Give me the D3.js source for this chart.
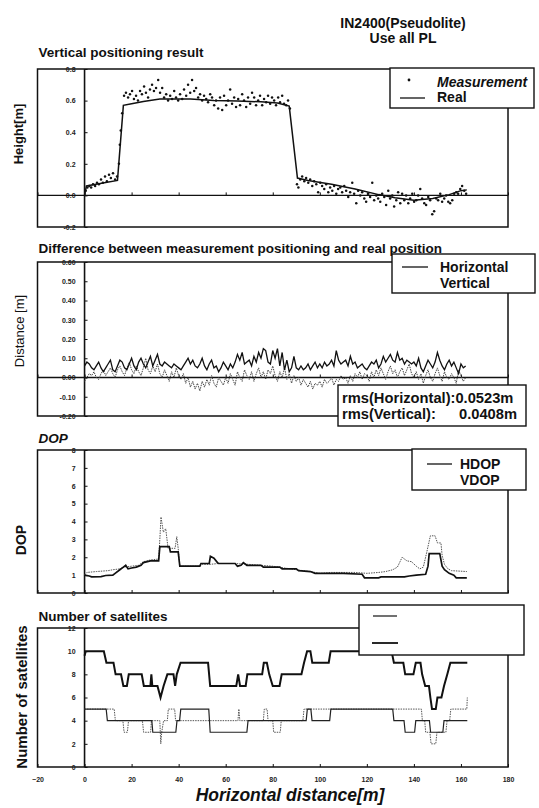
<!DOCTYPE html>
<html>
<head>
<meta charset="utf-8">
<script src="https://cdn.jsdelivr.net/npm/d3@7"></script>
<style>
    body { margin: 0; background: #fff; }
    svg { display: block; font-family: "Liberation Sans", Arial, sans-serif; }
</style>
</head>
<body>
<div id="chart"></div>
<script>
// ---- data ----
const xTicks = [-20, 0, 20, 40, 60, 80, 100, 120, 140, 160, 180]

const heightTicks = [-0.2, 0, 0.2, 0.4, 0.6, 0.8]
const realDist = [0, 0.8, 14, 16.5, 20, 25, 32, 45, 55, 65, 75, 82, 87, 90.5, 95, 105, 115, 125, 132, 140, 148, 155, 160, 162.5]
const realHeight = [0.0, 0.06, 0.095, 0.57, 0.58, 0.595, 0.61, 0.61, 0.60, 0.598, 0.592, 0.585, 0.565, 0.11, 0.095, 0.07, 0.04, 0.005, -0.015, -0.03, -0.02, 0.005, 0.03, 0.035]
const measurement = [
    [0.5, 0.03], [1.2, 0.05], [2.0, 0.06], [2.8, 0.05], [3.6, 0.07], [4.5, 0.06], [5.3, 0.08], [6.1, 0.07], [7.0, 0.10], [7.8, 0.08],
    [8.7, 0.12], [9.5, 0.09], [10.4, 0.13], [11.2, 0.11], [12.1, 0.14], [13.0, 0.10], [13.8, 0.12], [14.6, 0.20], [15.0, 0.32], [15.4, 0.41],
    [16.0, 0.52], [16.8, 0.63], [17.6, 0.65], [18.5, 0.62], [19.3, 0.64], [20.2, 0.66], [21.0, 0.61], [21.9, 0.63], [22.7, 0.60], [23.6, 0.66],
    [24.4, 0.64], [25.3, 0.69], [26.1, 0.65], [27.0, 0.62], [27.8, 0.67], [28.7, 0.70], [29.5, 0.66], [30.4, 0.68], [31.3, 0.73], [32.1, 0.65],
    [33.0, 0.68], [33.8, 0.62], [34.7, 0.64], [35.5, 0.60], [36.4, 0.63], [37.2, 0.61], [38.1, 0.66], [38.9, 0.62], [39.8, 0.60], [40.6, 0.64],
    [41.5, 0.61], [42.3, 0.67], [43.2, 0.63], [44.0, 0.70], [44.9, 0.65], [45.7, 0.73], [46.6, 0.66], [47.4, 0.68], [48.3, 0.62], [49.1, 0.64],
    [50.0, 0.60], [50.8, 0.63], [51.7, 0.61], [52.5, 0.59], [53.4, 0.64], [54.2, 0.62], [55.1, 0.57], [55.9, 0.60], [56.8, 0.55], [57.6, 0.62],
    [58.5, 0.54], [59.3, 0.63], [60.2, 0.57], [61.0, 0.60], [61.9, 0.67], [62.7, 0.58], [63.6, 0.62], [64.4, 0.56], [65.3, 0.61], [66.1, 0.57],
    [67.0, 0.64], [67.8, 0.60], [68.7, 0.56], [69.5, 0.62], [70.4, 0.58], [71.2, 0.65], [72.1, 0.62], [72.9, 0.57], [73.8, 0.60], [74.6, 0.63],
    [75.5, 0.57], [76.3, 0.61], [77.2, 0.59], [78.0, 0.63], [78.9, 0.58], [79.7, 0.62], [80.6, 0.60], [81.4, 0.57], [82.3, 0.62], [83.1, 0.59],
    [84.0, 0.63], [84.8, 0.58], [85.7, 0.57], [86.5, 0.60], [87.3, 0.55], [90.3, 0.07], [90.9, 0.05], [91.7, 0.10], [92.5, 0.12], [93.4, 0.09],
    [94.2, 0.11], [95.1, 0.08], [95.9, 0.10], [96.8, 0.06], [97.6, 0.09], [98.5, 0.07], [99.3, 0.02], [100.2, 0.08], [101.0, 0.06], [101.9, 0.04],
    [102.7, 0.07], [103.6, 0.02], [104.4, 0.05], [105.3, 0.03], [106.1, 0.06], [107.0, 0.01], [107.8, 0.04], [108.7, 0.05], [109.5, 0.02], [110.4, 0.06],
    [111.2, 0.03], [112.1, -0.01], [112.9, 0.02], [113.8, 0.08], [114.6, 0.01], [115.5, -0.05], [116.3, 0.03], [117.2, 0.00], [118.0, 0.02], [118.9, -0.02],
    [119.7, -0.04], [120.6, 0.01], [121.4, -0.01], [122.3, 0.08], [123.1, -0.03], [124.0, 0.00], [124.8, -0.02], [125.7, -0.04], [126.5, 0.01], [127.4, -0.01],
    [128.2, -0.06], [129.1, 0.03], [129.9, -0.02], [130.8, 0.00], [131.6, -0.07], [132.5, -0.03], [133.3, 0.02], [134.2, -0.05], [135.0, 0.01], [135.9, -0.03],
    [136.7, 0.00], [137.6, -0.05], [138.4, -0.02], [139.3, 0.01], [140.1, -0.04], [141.0, -0.03], [141.8, 0.00], [142.7, 0.04], [143.5, -0.02], [144.4, -0.05],
    [145.2, -0.06], [146.1, -0.01], [146.9, -0.03], [147.8, -0.12], [148.6, -0.10], [149.5, -0.02], [150.3, -0.03], [151.2, 0.01], [152.0, -0.04], [152.9, -0.02],
    [153.7, 0.00], [154.6, -0.04], [155.4, -0.05], [156.3, -0.03], [157.1, 0.01], [158.0, 0.02], [158.8, 0.01], [159.7, 0.04], [160.5, 0.06], [161.4, 0.03],
    [162.2, 0.01]
]

const diffTicks = [-0.2, -0.1, 0, 0.1, 0.2, 0.3, 0.4, 0.5, 0.6]
const diffDist = [
    0, 1, 2, 3, 4, 5, 6, 7, 8, 9, 10, 11, 12, 13, 14, 15, 16, 17, 18, 19, 20, 21, 22, 23, 24, 25, 26, 27, 28, 29,
    30, 31, 32, 33, 34, 35, 36, 37, 38, 39, 40, 41, 42, 43, 44, 45, 46, 47, 48, 49, 50, 51, 52, 53, 54, 55, 56, 57, 58, 59,
    60, 61, 62, 63, 64, 65, 66, 67, 68, 69, 70, 71, 72, 73, 74, 75, 76, 77, 78, 79, 80, 81, 82, 83, 84, 85, 86, 87, 88, 89,
    90, 91, 92, 93, 94, 95, 96, 97, 98, 99, 100, 101, 102, 103, 104, 105, 106, 107, 108, 109, 110, 111, 112, 113, 114, 115, 116, 117, 118, 119,
    120, 121, 122, 123, 124, 125, 126, 127, 128, 129, 130, 131, 132, 133, 134, 135, 136, 137, 138, 139, 140, 141, 142, 143, 144, 145, 146, 147, 148, 149,
    150, 151, 152, 153, 154, 155, 156, 157, 158, 159, 160, 161, 162
]
const diffHorizontal = [
    0.06, 0.08, 0.07, 0.05, 0.04, 0.06, 0.08, 0.05, 0.03, 0.05, 0.07, 0.09, 0.04, 0.03, 0.06, 0.09, 0.08, 0.05, 0.04, 0.07,
    0.10, 0.06, 0.04, 0.08, 0.10, 0.07, 0.05, 0.08, 0.11, 0.06, 0.09, 0.12, 0.07, 0.06, 0.08, 0.07, 0.06, 0.05, 0.07, 0.06,
    0.05, 0.04, 0.06, 0.08, 0.10, 0.07, 0.09, 0.06, 0.05, 0.07, 0.10, 0.06, 0.04, 0.07, 0.09, 0.05, 0.06, 0.03, 0.05, 0.08,
    0.06, 0.04, 0.07, 0.05, 0.08, 0.12, 0.09, 0.13, 0.07, 0.08, 0.09, 0.06, 0.11, 0.08, 0.13, 0.10, 0.15, 0.14, 0.08, 0.07,
    0.14, 0.10, 0.15, 0.06, 0.13, 0.04, 0.09, 0.03, 0.05, 0.11, 0.05, 0.04, 0.06, 0.04, 0.05, 0.07, 0.04, 0.06, 0.08, 0.05,
    0.07, 0.05, 0.08, 0.06, 0.07, 0.09, 0.06, 0.14, 0.09, 0.07, 0.08, 0.09, 0.06, 0.11, 0.07, 0.08, 0.05, 0.06, 0.07, 0.05,
    0.04, 0.06, 0.08, 0.07, 0.09, 0.05, 0.07, 0.11, 0.08, 0.10, 0.12, 0.09, 0.08, 0.13, 0.09, 0.10, 0.07, 0.09, 0.08, 0.07,
    0.08, 0.06, 0.10, 0.05, 0.03, 0.06, 0.09, 0.07, 0.05, 0.08, 0.13, 0.09, 0.06, 0.04, 0.07, 0.09, 0.06, 0.08, 0.05, 0.02,
    0.07, 0.05, 0.06
]
const diffVertical = [
    -0.02, 0.00, 0.02, 0.01, 0.03, 0.00, -0.01, 0.02, 0.04, 0.01, 0.03, 0.05, 0.02, 0.00, 0.04, 0.06, 0.03, 0.01, 0.05, 0.08,
    0.04, 0.02, 0.06, 0.03, 0.01, 0.05, 0.10, 0.04, 0.02, 0.06, 0.03, 0.07, 0.02, 0.00, 0.04, 0.01, -0.02, 0.03, 0.00, 0.05,
    0.01, -0.01, 0.02, -0.03, 0.00, -0.05, -0.02, -0.06, -0.03, -0.07, -0.02, -0.05, -0.01, -0.04, 0.01, -0.03, -0.05, 0.00, -0.02, -0.04,
    0.00, -0.03, 0.02, -0.01, -0.04, 0.03, 0.00, -0.02, 0.04, 0.01, -0.01, 0.03, -0.02, 0.02, 0.05, 0.00, 0.03, -0.01, 0.04, 0.02,
    0.06, 0.01, -0.02, 0.03, 0.00, 0.05, -0.01, 0.02, -0.03, 0.01, -0.02, 0.00, -0.04, -0.01, -0.03, -0.05, -0.02, -0.06, -0.03, -0.04,
    -0.02, -0.05, -0.01, -0.03, -0.02, 0.00, -0.04, -0.01, -0.02, 0.01, -0.01, 0.00, -0.03, 0.01, -0.02, 0.02, 0.00, 0.03, -0.01, 0.02,
    0.01, -0.02, 0.03, 0.00, 0.04, 0.01, 0.05, 0.02, -0.01, 0.03, 0.06, 0.02, 0.04, 0.00, 0.03, 0.05, 0.01, 0.04, 0.07, 0.02,
    0.00, 0.03, -0.01, 0.02, -0.03, 0.01, 0.04, 0.00, -0.02, 0.02, 0.05, 0.01, -0.02, 0.03, 0.00, -0.01, 0.02, 0.00, -0.03, 0.04,
    0.01, -0.02, 0.00
]

const dopTicks = [0, 1, 2, 3, 4, 5, 6, 7, 8]
const hdop = [
    [0, 1.0], [2, 0.95], [3, 0.9], [7, 0.92], [9, 0.98], [12, 1.0], [13, 1.1], [15, 1.3], [16.5, 1.45], [17.5, 1.55],
    [18.5, 1.35], [20, 1.4], [22, 1.45], [24, 1.55], [25, 1.7], [28, 1.8], [31.5, 1.8], [32, 2.6], [36, 2.6], [36.5, 2.3],
    [39.8, 2.3], [40.5, 1.5], [49, 1.5], [49.5, 1.65], [53, 1.65], [53.5, 2.05], [55, 1.95], [56.5, 1.7], [57, 1.65], [64, 1.65],
    [65, 1.5], [66.5, 1.55], [67.5, 1.7], [69, 1.55], [75, 1.55], [76, 1.45], [83, 1.45], [84, 1.35], [90, 1.35], [91, 1.25],
    [96, 1.2], [98, 1.1], [110, 1.1], [118, 1.05], [119, 0.85], [125, 0.85], [126, 0.9], [136, 0.9], [138, 0.95], [141, 1.0],
    [145, 1.05], [146, 1.5], [146.5, 2.2], [151, 2.2], [152, 1.5], [153, 1.3], [155, 1.1], [157, 1.0], [158, 0.85], [162.5, 0.85]
]
const vdop = [
    [0, 1.0], [1, 1.15], [5, 1.2], [10, 1.25], [12, 1.3], [15, 1.35], [17, 1.45], [20, 1.5], [23, 1.55], [25, 1.75],
    [28, 1.85], [31.5, 1.9], [32, 3.0], [32.5, 4.25], [33.5, 3.4], [34.5, 3.6], [35.5, 2.5], [38.5, 2.5], [39.2, 3.15], [39.8, 2.5],
    [40.5, 1.5], [49, 1.5], [50, 1.6], [53, 1.6], [57, 1.65], [64, 1.65], [70, 1.6], [75, 1.55], [80, 1.5], [85, 1.4],
    [90, 1.3], [96, 1.2], [100, 1.1], [105, 1.15], [115, 1.15], [120, 1.1], [125, 1.15], [128, 1.2], [131, 1.3], [133, 1.45],
    [135, 2.0], [137, 1.8], [139, 1.75], [141, 1.5], [142.5, 1.35], [144, 1.45], [145.5, 2.3], [147, 3.2], [149, 3.2], [150, 2.8],
    [151.5, 2.8], [152, 2.1], [153, 1.6], [154.5, 1.35], [156, 1.25], [162.5, 1.2]
]

const satTicks = [0, 2, 4, 6, 8, 10, 12]
const satTotal = [
    [0, 9.6], [0.5, 10], [8.2, 10], [9.3, 9], [12.3, 9], [13.2, 8], [15.5, 8], [16.5, 7], [18, 7], [18.8, 8],
    [24.3, 8], [25.2, 7], [28, 7], [28.4, 8], [28.8, 7], [31, 7], [32.3, 6], [33.6, 7], [35.2, 8], [37.8, 8],
    [38.5, 7], [39.2, 8], [40.8, 9], [52.5, 9], [53.4, 7], [64.5, 7], [65.3, 8], [66.1, 7], [68.5, 7], [69.2, 8],
    [75.5, 8], [76.2, 9], [77.5, 9], [78.5, 8], [80, 7], [82.9, 7], [83.8, 8], [92.2, 8], [93.3, 9], [94.6, 10],
    [96, 10], [96.8, 9], [103.8, 9], [104.6, 10], [130.5, 10], [131.5, 9], [135.5, 9], [136.3, 8], [139.8, 8], [140.8, 9],
    [142.8, 9], [143.5, 8], [144.8, 7], [146.4, 7], [147, 6], [147.7, 5], [149.3, 5], [150, 6], [151.7, 6], [152.8, 7],
    [154.2, 8], [155.5, 9], [162.7, 9]
]
const satGroupA = [
    [0, 5], [9.2, 5], [9.7, 4], [28.6, 4], [29, 3], [38.8, 3], [39.3, 4], [40.4, 4], [40.9, 5], [52.8, 5],
    [53.4, 3], [69, 3], [69.5, 4], [94.2, 4], [94.7, 5], [96.2, 5], [96.7, 4], [104.2, 4], [104.7, 5], [131, 5],
    [131.5, 4], [135.8, 4], [136.3, 3], [140.3, 3], [140.8, 4], [146.6, 4], [147.1, 3], [152.3, 3], [152.8, 4], [162.7, 4]
]
const satGroupB = [
    [0, 5], [12.6, 5], [13.1, 4], [16.3, 4], [16.8, 3], [18.2, 3], [18.7, 4], [24.6, 4], [25.1, 3], [28.1, 3],
    [28.4, 4], [32, 4], [32.4, 2], [32.8, 3], [33.6, 4], [35.2, 4], [35.6, 5], [38.3, 5], [38.7, 4], [65.2, 4],
    [65.6, 5], [66, 4], [76, 4], [76.4, 5], [77.6, 5], [78, 4], [80, 4], [80.4, 3], [83.2, 3], [83.6, 4],
    [92.8, 4], [93.3, 5], [143.2, 5], [143.6, 4], [144.6, 4], [145, 3], [146.8, 3], [147.3, 2], [149.3, 2], [149.8, 3],
    [153.6, 3], [154.1, 4], [155.2, 4], [155.7, 5], [162.5, 5], [162.7, 6]
]

// ---- drawing ----
const width = 539
const height = 808
const font = '"Liberation Sans", Arial, sans-serif'

const svg = d3.select('#chart')
    .append('svg')
    .attr('width', width)
    .attr('height', height)

svg.append('rect').attr('width', width).attr('height', height).attr('fill', '#fff')

const xScale = d3.scaleLinear().domain([-20, 180]).range([37.5, 508])
const xLeft = xScale(-20)
const xRight = xScale(180)
const x0 = xScale(0)

function addText(sel, x, y, str, size, opts) {
    opts = opts || {}
    const t = sel.append('text')
        .attr('x', x)
        .attr('y', y)
        .attr('font-size', size)
        .attr('font-weight', opts.weight || 'bold')
        .attr('font-style', opts.italic ? 'italic' : 'normal')
        .attr('text-anchor', opts.anchor || 'start')
        .attr('fill', '#111')
        .text(str)
    if (opts.rotate) t.attr('transform', `rotate(-90,${x},${y})`)
    return t
}

// draws the frame, y axis and x ticks of one panel, returns its y scale
function makePanel(p) {
    const y = d3.scaleLinear().domain(p.domain).range([p.bottom, p.top])
    const g = svg.append('g')

    g.append('rect')
        .attr('x', xLeft).attr('y', p.top)
        .attr('width', xRight - xLeft).attr('height', p.bottom - p.top)
        .attr('fill', 'none').attr('stroke', '#111').attr('stroke-width', 1.5)

    addText(svg, xLeft + 1, p.titleY, p.title, 13.5, { italic: p.titleItalic })
    addText(svg, p.labelX, p.labelY, p.label, p.labelSize, { rotate: true, anchor: 'middle', weight: p.labelWeight })

    const yAxis = d3.axisLeft(y).tickValues(p.ticks).tickSize(-3).tickPadding(9).tickFormat(p.format)
    const ya = g.append('g').attr('transform', `translate(${x0},0)`).call(yAxis)
    ya.select('.domain').remove()
    ya.selectAll('line').attr('stroke', '#111')
    ya.selectAll('text').attr('font-size', 7).attr('font-weight', 'bold').attr('font-family', font).attr('fill', '#222')

    const base = y(0)
    const xAxis = d3.axisBottom(xScale).tickValues(xTicks).tickSize(-3).tickPadding(10)
    if (!p.xLabels) xAxis.tickFormat('')
    const xa = g.append('g').attr('transform', `translate(0,${base})`).call(xAxis)
    xa.select('.domain').remove()
    xa.selectAll('line').attr('stroke', '#111')
    xa.selectAll('text').attr('font-size', 7).attr('font-weight', 'bold').attr('font-family', font).attr('fill', '#222')

    if (p.zeroLine) {
        g.append('line')
            .attr('x1', xLeft).attr('x2', xRight).attr('y1', base).attr('y2', base)
            .attr('stroke', '#111').attr('stroke-width', 1.4)
    }
    g.append('line')
        .attr('x1', x0).attr('x2', x0).attr('y1', p.top).attr('y2', p.bottom)
        .attr('stroke', '#111').attr('stroke-width', 1.6)

    return { y, g }
}

function legendBox(x, y, w, h) {
    svg.append('rect')
        .attr('x', x).attr('y', y).attr('width', w).attr('height', h)
        .attr('fill', '#fff').attr('stroke', '#111').attr('stroke-width', 1.4)
}

function legendLine(x1, x2, y, style) {
    svg.append('line')
        .attr('x1', x1).attr('x2', x2).attr('y1', y).attr('y2', y)
        .attr('stroke', '#111').attr('stroke-width', style || 1.3)
}

// main title
addText(svg, 403, 28, 'IN2400(Pseudolite)', 14, { anchor: 'middle' })
addText(svg, 403, 43, 'Use all PL', 14, { anchor: 'middle' })

// panel 1 - vertical positioning
const p1 = makePanel({
    top: 69, bottom: 227, domain: [-0.2, 0.8], ticks: heightTicks, format: d => d.toFixed(1),
    title: 'Vertical positioning result', titleY: 57, zeroLine: true,
    label: 'Height[m]', labelX: 23, labelY: 134, labelSize: 13
})
p1.g.append('path')
    .datum(d3.zip(realDist, realHeight))
    .attr('fill', 'none').attr('stroke', '#111').attr('stroke-width', 1.5)
    .attr('d', d3.line().x(d => xScale(d[0])).y(d => p1.y(d[1])))
p1.g.selectAll('circle.meas')
    .data(measurement)
    .enter().append('circle')
    .attr('class', 'meas')
    .attr('cx', d => xScale(d[0]))
    .attr('cy', d => p1.y(d[1]))
    .attr('r', 1.25)
    .attr('fill', '#111')

legendBox(390, 68, 144, 40)
svg.append('circle').attr('cx', 409).attr('cy', 80).attr('r', 1.4).attr('fill', '#111')
addText(svg, 437, 87, 'Measurement', 14, { italic: true })
legendLine(400, 425, 98)
addText(svg, 437, 102, 'Real', 14)

// panel 2 - difference
const p2 = makePanel({
    top: 262, bottom: 416, domain: [-0.2, 0.6], ticks: diffTicks, format: d => d.toFixed(2),
    title: 'Difference between measurement positioning and real position', titleY: 253, zeroLine: true,
    label: 'Distance [m]', labelX: 24, labelY: 331, labelSize: 13, labelWeight: 'normal'
})
p2.g.append('path')
    .datum(d3.zip(diffDist, diffVertical))
    .attr('fill', 'none').attr('stroke', '#444').attr('stroke-width', 1).attr('stroke-dasharray', '1.5,1')
    .attr('d', d3.line().x(d => xScale(d[0])).y(d => p2.y(d[1])))
p2.g.append('path')
    .datum(d3.zip(diffDist, diffHorizontal))
    .attr('fill', 'none').attr('stroke', '#111').attr('stroke-width', 1.3)
    .attr('d', d3.line().x(d => xScale(d[0])).y(d => p2.y(d[1])))

legendBox(392, 254, 143, 39)
legendLine(402, 428, 267)
addText(svg, 440, 272, 'Horizontal', 14)
addText(svg, 440, 288, 'Vertical', 14)

legendBox(338, 385, 188, 41)
addText(svg, 342, 403, 'rms(Horizontal):0.0523m', 14.7)
addText(svg, 342, 419, 'rms(Vertical):', 14.7)
addText(svg, 517, 419, '0.0408m', 14.7, { anchor: 'end' })

// panel 3 - DOP
const p3 = makePanel({
    top: 450, bottom: 593, domain: [0, 8], ticks: dopTicks, format: d3.format('d'),
    title: 'DOP', titleY: 443, titleItalic: true,
    label: 'DOP', labelX: 26, labelY: 540, labelSize: 14
})
p3.g.append('path')
    .datum(vdop)
    .attr('fill', 'none').attr('stroke', '#555').attr('stroke-width', 1).attr('stroke-dasharray', '1.5,1')
    .attr('d', d3.line().x(d => xScale(d[0])).y(d => p3.y(d[1])))
p3.g.append('path')
    .datum(hdop)
    .attr('fill', 'none').attr('stroke', '#111').attr('stroke-width', 1.7)
    .attr('d', d3.line().x(d => xScale(d[0])).y(d => p3.y(d[1])))

legendBox(412, 449, 114, 41)
legendLine(427, 452, 464)
addText(svg, 460, 469, 'HDOP', 14)
addText(svg, 460, 485, 'VDOP', 14)

// panel 4 - satellites
const p4 = makePanel({
    top: 628, bottom: 767, domain: [0, 12], ticks: satTicks, format: d3.format('d'),
    title: 'Number of satellites', titleY: 621, xLabels: true,
    label: 'Number of satellites', labelX: 27, labelY: 697, labelSize: 15
})
p4.g.append('path')
    .datum(satGroupB)
    .attr('fill', 'none').attr('stroke', '#555').attr('stroke-width', 1).attr('stroke-dasharray', '1.5,1')
    .attr('d', d3.line().x(d => xScale(d[0])).y(d => p4.y(d[1])))
p4.g.append('path')
    .datum(satGroupA)
    .attr('fill', 'none').attr('stroke', '#222').attr('stroke-width', 1.2)
    .attr('d', d3.line().x(d => xScale(d[0])).y(d => p4.y(d[1])))
p4.g.append('path')
    .datum(satTotal)
    .attr('fill', 'none').attr('stroke', '#111').attr('stroke-width', 2)
    .attr('d', d3.line().x(d => xScale(d[0])).y(d => p4.y(d[1])))

legendBox(359, 605, 165, 50)
legendLine(373, 397, 616, 1.2)
legendLine(372, 398, 643, 1.8)

addText(svg, 290, 801, 'Horizontal distance[m]', 17.5, { anchor: 'middle', italic: true })
</script>
</body>
</html>
